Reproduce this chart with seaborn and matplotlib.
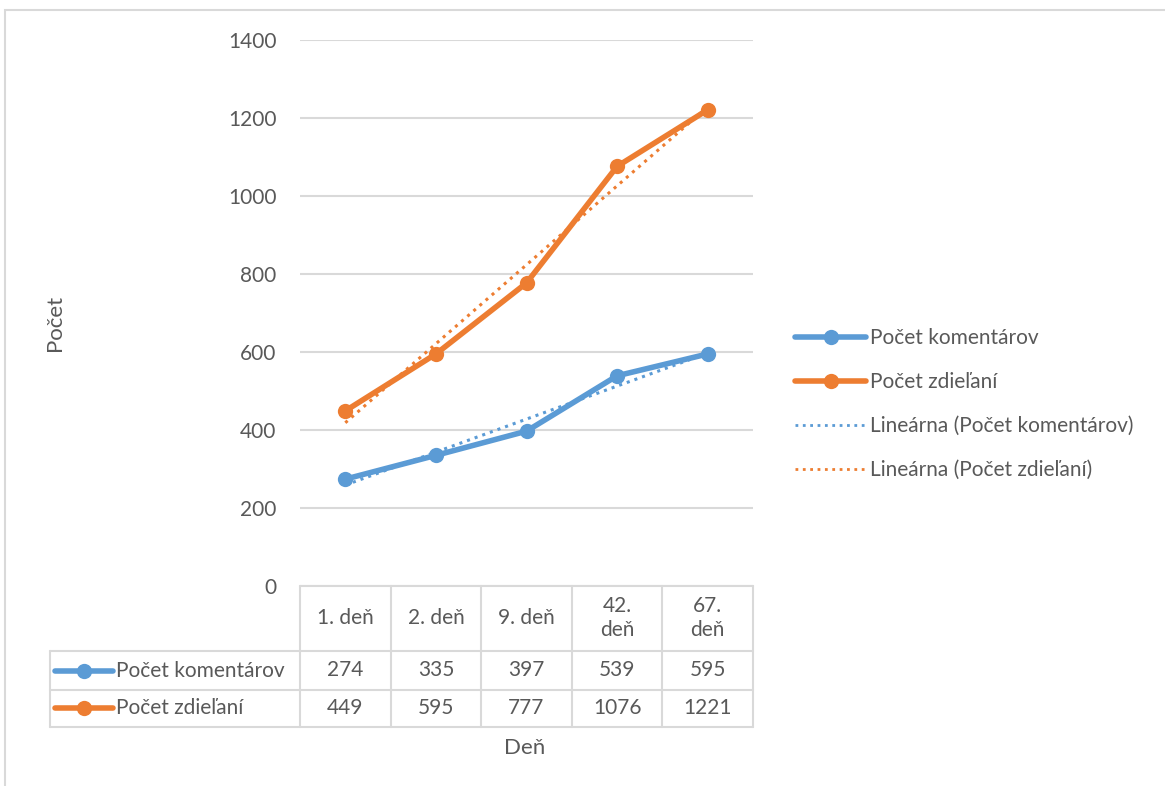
import numpy as np
import pandas as pd
import matplotlib.pyplot as plt
import seaborn as sns
from matplotlib.lines import Line2D
from matplotlib.patches import Rectangle

# Data
days = ['1. deň', '2. deň', '9. deň', '42.\ndeň', '67.\ndeň']
komentare = [274, 335, 397, 539, 595]
zdielania = [449, 595, 777, 1076, 1221]
series_names = ['Počet komentárov', 'Počet zdieľaní']
trend_names = ['Lineárna (Počet komentárov)', 'Lineárna (Počet zdieľaní)']
colors = ['#5B9BD5', '#ED7D31']
y_ticks = [0, 200, 400, 600, 800, 1000, 1200, 1400]

sns.set_theme(style='white')
plt.rcParams['font.family'] = ['Lato', 'DejaVu Sans']
text_color = '#595959'
grid_color = '#D9D9D9'
fs = 15

W, H = 1165, 786
fig = plt.figure(figsize=(W / 100, H / 100), dpi=100)
ax = fig.add_axes([300 / W, 1 - 586 / H, 453 / W, 546 / H])

x = np.arange(len(days))
df = pd.DataFrame({
    'x': np.tile(x, 2),
    'value': komentare + zdielania,
    'series': np.repeat(series_names, len(days)),
})

# Trendlines (linear fit)
for vals, col in zip([komentare, zdielania], colors):
    k, q = np.polyfit(x + 1, vals, 1)
    sns.lineplot(x=x, y=k * (x + 1) + q, color=col, linestyle=':', linewidth=2.2, ax=ax, zorder=3)

sns.lineplot(data=df, x='x', y='value', hue='series', palette=colors, marker='o',
             markersize=11, linewidth=4, markeredgewidth=0, ax=ax, legend=False, zorder=2)

ax.set_xlim(-0.5, 4.5)
ax.set_ylim(0, 1400)
ax.set_yticks(y_ticks)
ax.set_xticks([])
ax.set_xlabel('')
ax.set_ylabel('')
for s in ax.spines.values():
    s.set_visible(False)
ax.grid(axis='y', color=grid_color, linewidth=1.5)
ax.set_axisbelow(True)
ax.tick_params(axis='y', length=0, pad=17, labelsize=fs, labelcolor=text_color)

# Data table under the axis
tr = ax.get_xaxis_transform()
rows_y = [0, -65 / 546, -104 / 546, -141 / 546]
left = ax.transData.inverted().transform(fig.transFigure.transform((50 / W, 0)))[0]
for i in range(len(days) + 1):
    ax.plot([i - 0.5, i - 0.5], [rows_y[0], rows_y[-1]], transform=tr, color=grid_color,
            lw=1.5, clip_on=False)
ax.plot([-0.5, 4.5], [rows_y[0]] * 2, transform=tr, color=grid_color, lw=1.5, clip_on=False)
for ry in rows_y[1:]:
    ax.plot([left, 4.5], [ry, ry], transform=tr, color=grid_color, lw=1.5, clip_on=False)
ax.plot([left, left], [rows_y[1], rows_y[-1]], transform=tr, color=grid_color, lw=1.5, clip_on=False)

for i, d in enumerate(days):
    ax.text(i, (rows_y[0] + rows_y[1]) / 2, d, transform=tr, ha='center', va='center',
            fontsize=fs, color=text_color, linespacing=1.25)
for r, vals in enumerate([komentare, zdielania]):
    cy = (rows_y[r + 1] + rows_y[r + 2]) / 2
    for i, v in enumerate(vals):
        ax.text(i, cy, str(v), transform=tr, ha='center', va='center', fontsize=fs, color=text_color)

# Row legend keys in the table
for r, (name, col) in enumerate(zip(series_names, colors)):
    yc = 1 - (671 + r * 37) / H
    fig.add_artist(Line2D([55 / W, 113 / W], [yc, yc], color=col, lw=4, solid_capstyle='round'))
    fig.add_artist(Line2D([84 / W], [yc], color=col, marker='o', markersize=11, markeredgewidth=0))
    fig.text(116 / W, yc, name, ha='left', va='center', fontsize=fs, color=text_color)

# Axis titles
fig.text(55 / W, 1 - 323 / H, 'Počet', rotation=90, ha='center', va='center', fontsize=fs + 1, color=text_color)
fig.text(525 / W, 1 - 748 / H, 'Deň', ha='center', va='center', fontsize=fs + 1, color=text_color)

# Legend
handles = [Line2D([0], [0], color=c, lw=4, marker='o', markersize=11, markeredgewidth=0) for c in colors]
handles += [Line2D([0], [0], color=c, lw=2, linestyle=':') for c in colors]
leg = fig.legend(handles, series_names + trend_names, loc='upper left',
                 bbox_to_anchor=(787 / W, 1 - 320 / H), frameon=False, fontsize=fs,
                 handlelength=3.4, handletextpad=0.2, labelspacing=1.15, borderaxespad=0)
for t in leg.get_texts():
    t.set_color(text_color)

# Chart border
fig.add_artist(Rectangle((5 / W, -0.1), 1.2, 1.1 - 10 / H, transform=fig.transFigure,
                         fill=False, edgecolor=grid_color, lw=1.5))

fig.savefig('out.png', dpi=100)
